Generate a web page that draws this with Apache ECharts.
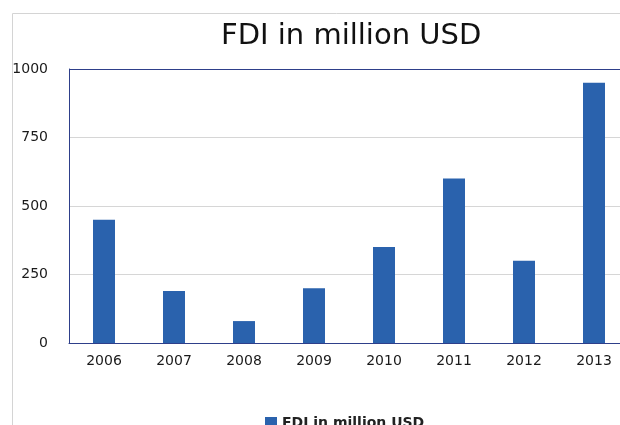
<!DOCTYPE html>
<html>
<head>
<meta charset="utf-8">
<script src="https://cdn.jsdelivr.net/npm/echarts@6/dist/echarts.min.js"></script>
<style>
  html, body { margin: 0; padding: 0; background: #ffffff; overflow: hidden; }
  #chart { width: 660px; height: 425px; }
</style>
</head>
<body>
<div id="chart"></div>
<script>
// Foreign direct investment per year, million USD
const years = ['2006', '2007', '2008', '2009', '2010', '2011', '2012', '2013'];
const fdiValues = [450, 190, 80, 200, 350, 600, 300, 950];
const seriesName = 'FDI in million USD';
const yTicks = { min: 0, max: 1000, step: 250 };

const navy = '#2e3f8a';
const grey = '#d6d6d6';
const barBlue = '#2a62ad';
const font = 'DejaVu Sans, Verdana, sans-serif';

// The drawing surface is a little wider than the window, so the plot's right edge runs off-screen
const chart = echarts.init(document.getElementById('chart'), null, { renderer: 'canvas' });

chart.setOption({
  animation: false,
  backgroundColor: '#ffffff',
  title: {
    text: seriesName,
    left: 216,
    top: 17,
    textStyle: { fontFamily: font, fontSize: 29, fontWeight: 'normal', color: '#111111' }
  },
  graphic: [{
    // light outer frame around the whole chart
    type: 'rect',
    silent: true,
    z: -10,
    shape: { x: 12.5, y: 13.5, width: 700, height: 500 },
    style: { fill: 'none', stroke: '#d4d4d4', lineWidth: 1 }
  }],
  legend: {
    data: [seriesName],
    left: 260,
    top: 411,
    itemWidth: 12,
    itemHeight: 12,
    itemGap: 8,
    icon: 'rect',
    textStyle: { fontFamily: font, fontSize: 14, fontWeight: 'bold', color: '#222222' }
  },
  grid: { left: 69, top: 69, width: 560, height: 274, containLabel: false },
  xAxis: {
    type: 'category',
    data: years,
    axisLine: { show: true, lineStyle: { color: navy, width: 1 } },
    axisTick: { show: false },
    axisLabel: { margin: 11, fontFamily: font, fontSize: 14, color: '#1a1a1a' }
  },
  yAxis: {
    type: 'value',
    min: yTicks.min,
    max: yTicks.max,
    interval: yTicks.step,
    axisLine: { show: true, lineStyle: { color: navy, width: 1 } },
    axisTick: { show: false },
    axisLabel: {
      margin: 21,
      fontFamily: font,
      fontSize: 14,
      color: '#1a1a1a',
      formatter: (v) => String(v)
    },
    splitLine: { show: true, lineStyle: { color: [navy, grey, grey, grey, navy], width: 1 } }
  },
  series: [{
    name: seriesName,
    type: 'bar',
    data: fdiValues,
    barWidth: 22,
    itemStyle: { color: barBlue }
  }]
});
</script>
</body>
</html>
